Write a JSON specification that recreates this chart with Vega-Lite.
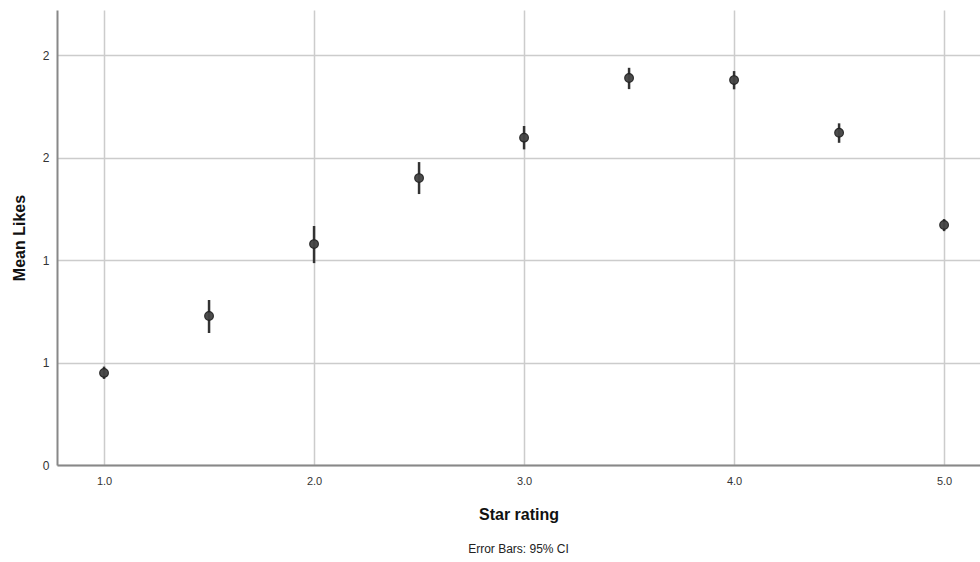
{
  "$schema": "https://vega.github.io/schema/vega-lite/v6.json",
  "autosize": {"type": "none"},
  "width": 923,
  "height": 455,
  "padding": {"left": 57, "top": 10, "right": 0, "bottom": 97},
  "background": "white",
  "config": {
    "view": {"stroke": null},
    "font": "Liberation Sans"
  },
  "title": {
    "text": "Error Bars: 95% CI",
    "orient": "bottom",
    "anchor": "middle",
    "fontSize": 12,
    "fontWeight": "normal",
    "color": "#222",
    "font": "Liberation Sans",
    "offset": 22
  },
  "data": {
    "values": [
      {"star": 1.0, "mean": 0.449, "lo": 0.42, "hi": 0.48},
      {"star": 1.5, "mean": 0.727, "lo": 0.644, "hi": 0.805},
      {"star": 2.0, "mean": 1.078, "lo": 0.985, "hi": 1.166},
      {"star": 2.5, "mean": 1.40, "lo": 1.322, "hi": 1.478},
      {"star": 3.0, "mean": 1.597, "lo": 1.54, "hi": 1.654},
      {"star": 3.5, "mean": 1.888, "lo": 1.834, "hi": 1.938},
      {"star": 4.0, "mean": 1.878, "lo": 1.833, "hi": 1.922},
      {"star": 4.5, "mean": 1.621, "lo": 1.572, "hi": 1.667},
      {"star": 5.0, "mean": 1.171, "lo": 1.141, "hi": 1.2}
    ]
  },
  "encoding": {
    "x": {
      "field": "star",
      "type": "quantitative",
      "scale": {"domain": [0.776, 5.171], "nice": false, "zero": false},
      "axis": {
        "title": "Star rating",
        "values": [1, 2, 3, 4, 5],
        "format": ".1f",
        "ticks": false,
        "labelPadding": 10,
        "labelFontSize": 11,
        "labelColor": "#333",
        "titleFontSize": 16,
        "titleFontWeight": "bold",
        "titleColor": "#111",
        "titlePadding": 20,
        "domainColor": "#888",
        "domainWidth": 2,
        "grid": true,
        "gridColor": "#cccccc",
        "gridWidth": 1.5
      }
    },
    "y": {
      "field": "mean",
      "type": "quantitative",
      "scale": {"domain": [0, 2.22], "nice": false},
      "axis": {
        "title": "Mean Likes",
        "values": [0, 0.5, 1, 1.5, 2],
        "format": ".0f",
        "ticks": false,
        "labelPadding": 8,
        "labelFontSize": 12,
        "labelColor": "#333",
        "titleFontSize": 16,
        "titleFontWeight": "bold",
        "titleColor": "#111",
        "titlePadding": 15,
        "domainColor": "#888",
        "domainWidth": 2,
        "grid": true,
        "gridColor": "#cccccc",
        "gridWidth": 1.5
      }
    }
  },
  "layer": [
    {
      "mark": {"type": "rule", "color": "#333", "strokeWidth": 2.5},
      "encoding": {
        "y": {"field": "lo", "type": "quantitative"},
        "y2": {"field": "hi"}
      }
    },
    {
      "mark": {"type": "point", "filled": true, "shape": "circle", "size": 75, "color": "#444", "opacity": 0.95, "stroke": "#222", "strokeWidth": 1.2}
    }
  ]
}
